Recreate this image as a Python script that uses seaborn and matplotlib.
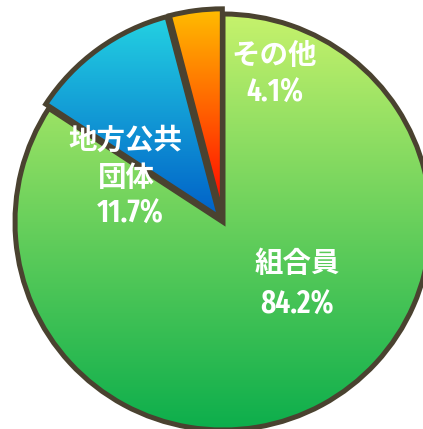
import numpy as np
import matplotlib
matplotlib.use("Agg")
import matplotlib.pyplot as plt
import seaborn as sns

# ---- data ----
categories = ["組合員", "地方公共\n団体", "その他"]
values = [84.2, 11.7, 4.1]
pct_labels = ["84.2%", "11.7%", "4.1%"]

# ---- style ----
sns.set_theme(style="white")
plt.rcParams["font.family"] = ["Noto Sans CJK JP", "DejaVu Sans"]

top_colors = ["#c6f26c", "#24d2e2", "#ffbc00"]
bottom_colors = ["#0cae4c", "#0060c8", "#ff0000"]
edge_color = "#4a4230"

W, H = 423, 429
cx, cy, R = 223, 222, 208

fig = plt.figure(figsize=(W / 100, H / 100), dpi=100)
ax = fig.add_axes([0, 0, 1, 1])
ax.axis("off")

wedges, _ = ax.pie(values, startangle=90, counterclock=False,
                   explode=[0, 0.025, 0.025], radius=1.0,
                   wedgeprops=dict(linewidth=3.6, edgecolor=edge_color,
                                   joinstyle="miter"))

grad = np.linspace(0, 1, 256).reshape(-1, 1)
for w, tc, bc in zip(wedges, top_colors, bottom_colors):
    cmap = sns.blend_palette([tc, bc], n_colors=256, as_cmap=True)
    ext = w.get_path().get_extents()
    im = ax.imshow(grad, cmap=cmap, aspect="auto", origin="upper",
                   extent=[ext.x0, ext.x1, ext.y0, ext.y1], zorder=1,
                   interpolation="bilinear")
    im.set_clip_path(w)
    w.set_facecolor("none")
    w.set_zorder(3)

ax.set_xlim(-cx / R, (W - cx) / R)
ax.set_ylim(-(H - cy) / R, cy / R)
ax.set_aspect("auto")

def d(px, py):
    return (px - cx) / R, (cy - py) / R

num_font = dict(family=["Fira Sans Extra Condensed", "DejaVu Sans"],
                fontsize=23, fontweight="semibold", color="white",
                ha="center", va="center", zorder=5)
cjk_font = dict(fontsize=20.5, fontweight="bold", color="white",
                ha="center", va="center", zorder=5)

# label placements (pixel coordinates)
cat_pos = [[(297, 264)], [(125, 141), (126, 178)], [(274, 56)]]
pct_pos = [(297, 305), (130, 214), (275, 93)]

for cat, lines_pos, pct, ppos in zip(categories, cat_pos, pct_labels, pct_pos):
    for line, pos in zip(cat.split("\n"), lines_pos):
        ax.text(*d(*pos), line, **cjk_font)
    ax.text(*d(*ppos), pct, **num_font)

fig.savefig("out.png", dpi=100)
